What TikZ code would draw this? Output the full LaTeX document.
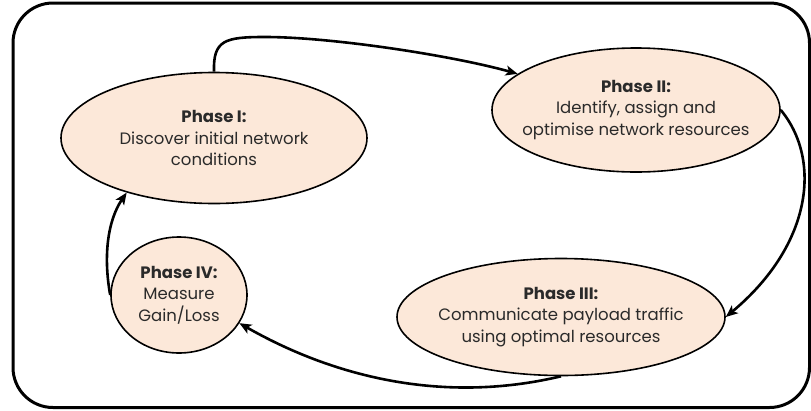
\documentclass[tikz,border=0pt]{standalone}
\usepackage{fontspec}
\setmainfont{Poppins}
\usetikzlibrary{shapes.geometric,arrows.meta}
\definecolor{peach}{HTML}{FCE8D9}
\definecolor{txt}{HTML}{2A2A2A}
\tikzset{
  phase/.style={ellipse, draw=black, line width=1.6pt, fill=peach, inner sep=0pt},
  phasetext/.style={align=center, text=txt, inner sep=0pt, font=\fontsize{16.5}{21.5}\selectfont},
  flow/.style={line width=2.6pt, -{Stealth[length=12pt,width=10pt,inset=3pt]}},
  frame/.style={line width=3pt, rounded corners=40pt}
}
\begin{document}
\begin{tikzpicture}[x=1pt,y=-1pt]
\useasboundingbox (0,0) rectangle (811,410);
\draw[frame] (13,3) rectangle (809.5,407.5);
\node[phase, minimum width=306pt, minimum height=131pt] (p1) at (214,138) {};
\node[phasetext] (t1) at (p1.center) {\textbf{Phase I:}\\Discover initial network\\conditions};
\node[phase, minimum width=288pt, minimum height=124pt] (p2) at (636,110) {};
\node[phasetext] (t2) at (p2.center) {\textbf{Phase II:}\\Identify, assign and\\optimise network resources};
\node[phase, minimum width=328pt, minimum height=117pt] (p3) at (561,317) {};
\node[phasetext] (t3) at (p3.center) {\textbf{Phase III:}\\Communicate payload traffic\\using optimal resources};
\node[phase, minimum width=136pt, minimum height=116pt] (p4) at (179,295) {};
\node[phasetext] (t4) at (p4.center) {\textbf{Phase IV:}\\Measure\\Gain/Loss};
\draw[flow] (p1.north) .. controls (213,40) and (225,37) .. (265,37)
  .. controls (330,37) and (450,55) .. (p2.163);
\draw[flow] (p2.east) .. controls (822,160) and (812,245) .. (p3.east);
\draw[flow] (p3.south) .. controls (440,405) and (330,375) .. (p4.-25);
\draw[flow] (p4.west) .. controls (103,255) and (108,220) .. (p1.212);
\end{tikzpicture}
\end{document}
